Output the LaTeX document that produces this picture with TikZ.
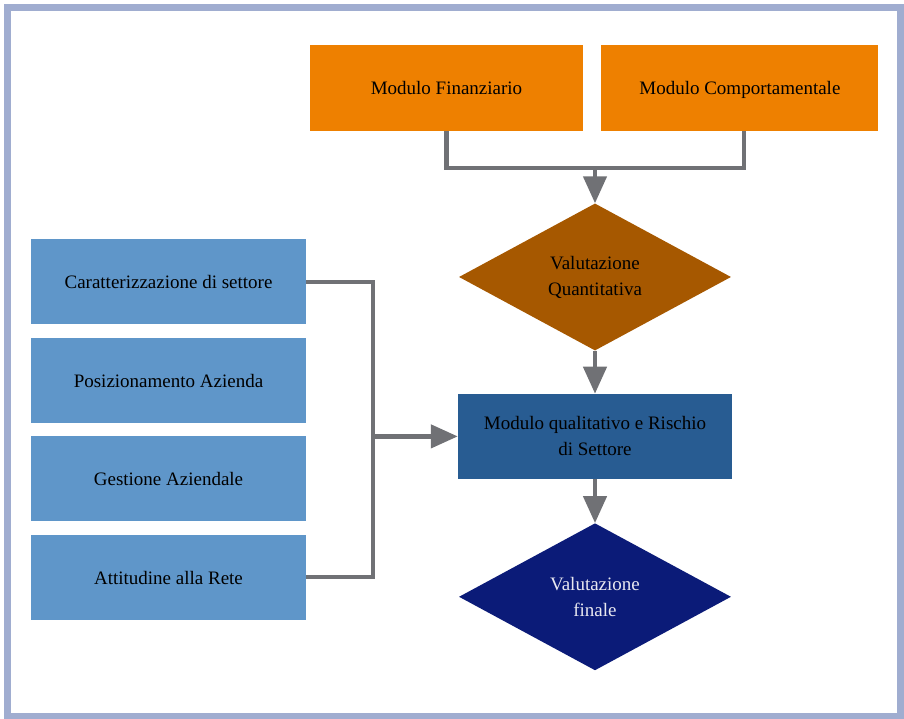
\documentclass[tikz,border=0pt]{standalone}
\usepackage{fontspec}
\setmainfont{Liberation Serif}
\usetikzlibrary{positioning, shapes.geometric, arrows.meta}

\definecolor{frameBlue}{HTML}{A0ADD0}
\definecolor{modOrange}{HTML}{EE8000}
\definecolor{quantBrown}{HTML}{A65800}
\definecolor{qualBlue}{HTML}{285C92}
\definecolor{finalNavy}{HTML}{0B1B78}
\definecolor{factorBlue}{HTML}{5F96C9}
\definecolor{linkGray}{HTML}{707175}
\definecolor{finalText}{HTML}{E8E8F0}

\begin{document}
\begin{tikzpicture}[x=1pt, y=1pt, node distance=13pt,
    every node/.style={font=\fontsize{19}{26}\selectfont, align=center, inner sep=0pt},
    module/.style={rectangle, fill=modOrange, minimum width=273pt, minimum height=86pt,
      text height=16pt, text depth=2pt},
    factor/.style={rectangle, fill=factorBlue, minimum width=275pt, minimum height=85pt,
      text height=16pt, text depth=2pt},
    decision/.style={diamond, aspect=1.85, minimum width=272pt, minimum height=147pt},
    link/.style={draw=linkGray, line width=4.5pt},
    flow/.style={link, -{Triangle[length=27pt, width=23pt]}}]
    \useasboundingbox (0,0) rectangle (904,719);
    \draw[frameBlue, line width=7pt] (7,711) rectangle (900.5,2.5);

    \node[module] (modFin) at (446.5,631) {Modulo Finanziario};
    \node[module, minimum width=277pt] (modComp) [right = 18pt of modFin] {Modulo Comportamentale};

    \node[decision, fill=quantBrown] (valQuant) at (595,442) {Valutazione\\Quantitativa};
    \node[rectangle, fill=qualBlue, minimum width=274pt, minimum height=85pt] (modQual)
    [below = 43pt of valQuant] {Modulo qualitativo e Rischio\\di Settore};
    \node[decision, fill=finalNavy, text=finalText] (valFin) [below = 44pt of modQual] {Valutazione\\finale};

    \node[factor] (carSet) at (168.5,437) {Caratterizzazione di settore};
    \node[factor] (posAz) [below = of carSet] {Posizionamento Azienda};
    \node[factor] (gestAz) [below = of posAz] {Gestione Aziendale};
    \node[factor] (attRete) [below = of gestAz] {Attitudine alla Rete};

    \coordinate (busTop) at (595,551);
    \coordinate (busLeft) at (373,286);

    \draw[link] (modFin.south) |- (busTop) -| ([xshift=4pt]modComp.south);
    \draw[flow] (busTop) -- (valQuant.north);
    \draw[flow] (valQuant.south) -- (modQual.north);
    \draw[flow] (modQual.south) -- (valFin.north);

    \draw[link] (carSet.east) -| (busLeft) |- (attRete.east);
    \draw[flow] (busLeft |- modQual.west) -- (modQual.west);
  \end{tikzpicture}
\end{document}
